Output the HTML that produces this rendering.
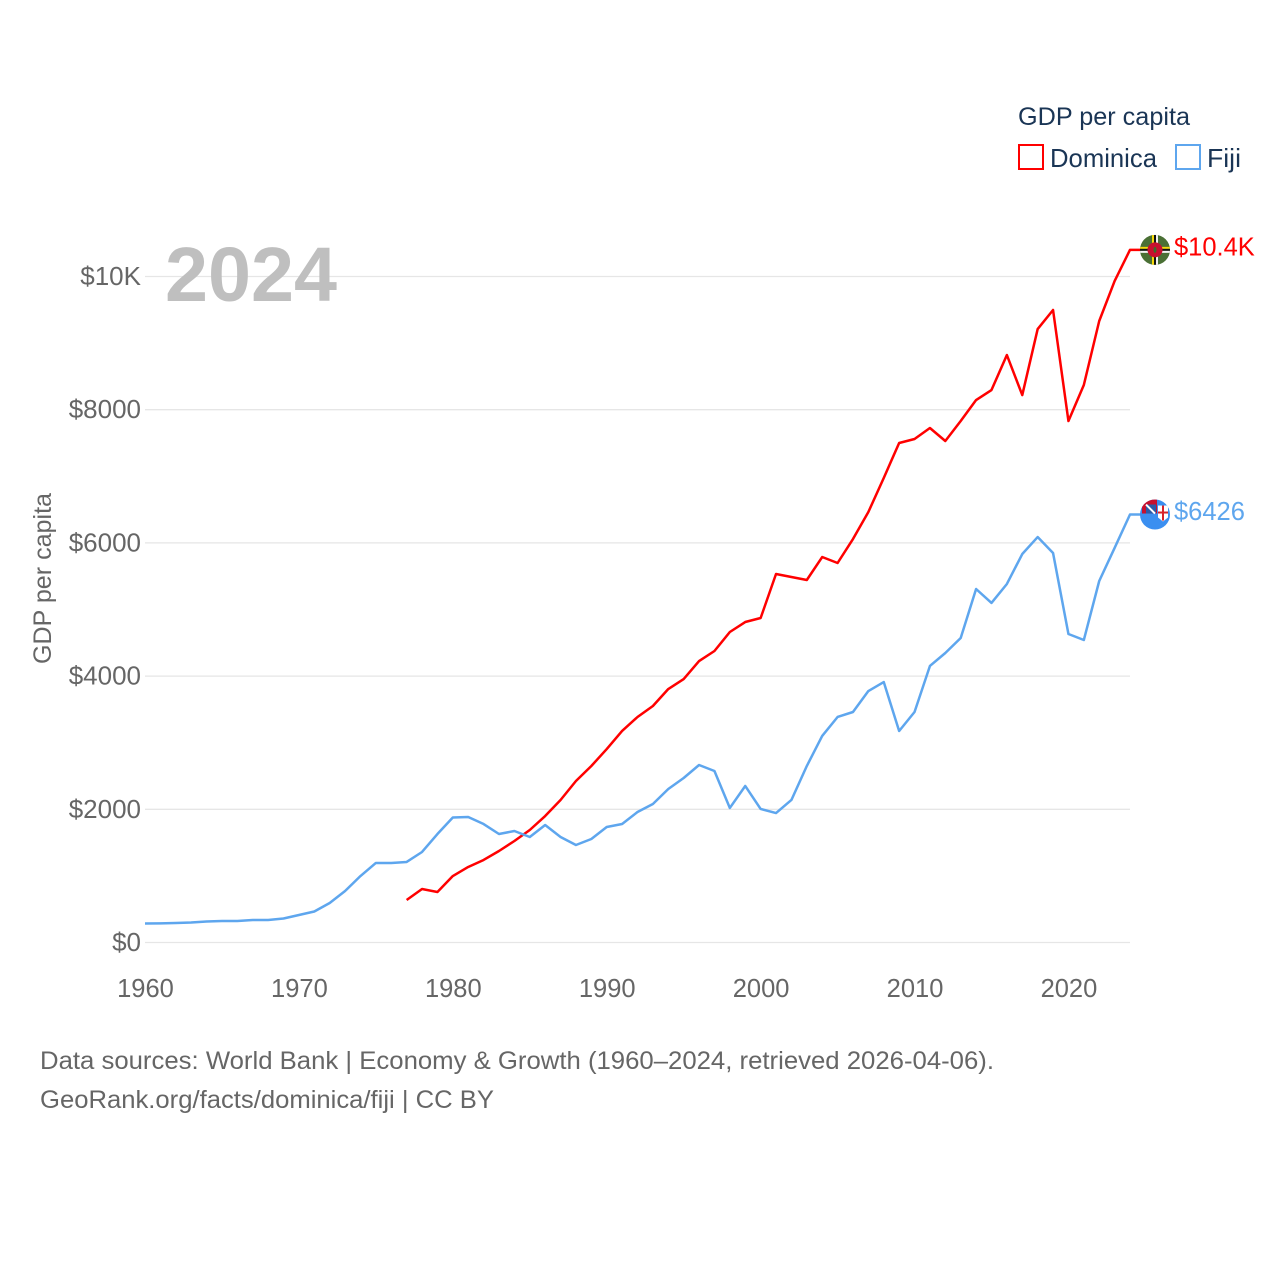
<!DOCTYPE html>
<html>
<head>
<meta charset="utf-8">
<title>GDP per capita: Dominica and Fiji</title>
<style>
html,body{margin:0;padding:0;background:#fff;}
svg{display:block;}
text{font-family:"Liberation Sans",sans-serif;}
</style>
</head>
<body>
<svg id="chart" width="1280" height="1280" viewBox="0 0 1280 1280" xmlns="http://www.w3.org/2000/svg">
  <defs>
    <clipPath id="flag-clip"><circle cx="0" cy="0" r="15"/></clipPath>
  </defs>
  <rect width="1280" height="1280" fill="#fff"/>
  <g id="grid"></g>
  <g id="y-ticks"></g>
  <g id="x-ticks"></g>
  <text x="165" y="301" font-size="77" font-weight="bold" fill="#bfbfbf" textLength="172" lengthAdjust="spacingAndGlyphs">2024</text>
  <text transform="translate(51,578.5) rotate(-90)" text-anchor="middle" font-size="25" fill="#666" textLength="171" lengthAdjust="spacingAndGlyphs">GDP per capita</text>
  <g id="series"></g>

  <g id="flag-dominica">
    <g clip-path="url(#flag-clip)">
      <rect x="-15" y="-15" width="30" height="30" fill="#4a7035"/>
      <rect x="-15" y="-3" width="30" height="2" fill="#f5d90a"/>
      <rect x="-15" y="-1" width="30" height="2" fill="#111"/>
      <rect x="-15" y="1" width="30" height="2" fill="#f4f4f4"/>
      <rect x="-3" y="-15" width="2" height="30" fill="#f5d90a"/>
      <rect x="-1" y="-15" width="2" height="30" fill="#111"/>
      <rect x="1" y="-15" width="2" height="30" fill="#f4f4f4"/>
      <circle r="7.5" fill="#c8102e"/>
      <ellipse rx="1.5" ry="3" fill="#3d6b2a"/>
    </g>
  </g>

  <g id="flag-fiji">
    <g clip-path="url(#flag-clip)">
      <rect x="-15" y="-15" width="30" height="30" fill="#3b8ff0"/>
      <rect x="-13" y="-15" width="15" height="14" fill="#c8102e"/>
      <rect x="-9" y="-10" width="10" height="9" fill="#2a5aa8"/>
      <path d="M-9-10L0-1" stroke="#fff" stroke-width="2"/>
      <rect x="3" y="-9" width="10" height="12" fill="#fff"/>
      <path d="M3 3h10l-5 4z" fill="#fff"/>
      <rect x="7" y="-9" width="2" height="15" fill="#d8232a"/>
      <rect x="3" y="-3" width="10" height="2" fill="#d8232a"/>
    </g>
  </g>

  <g id="end-labels"></g>

  <text x="1018" y="125" font-size="25" fill="#1a3555" textLength="172" lengthAdjust="spacingAndGlyphs">GDP per capita</text>
  <rect x="1019" y="145" width="24" height="24" fill="#fff" stroke="#ff0000" stroke-width="2"/>
  <text x="1050" y="167" font-size="26" fill="#1a3555" textLength="107" lengthAdjust="spacingAndGlyphs">Dominica</text>
  <rect x="1176" y="145" width="24" height="24" fill="#fff" stroke="#5ea6ee" stroke-width="2"/>
  <text x="1207" y="167" font-size="26" fill="#1a3555" textLength="34" lengthAdjust="spacingAndGlyphs">Fiji</text>

  <text x="40" y="1069" font-size="25" fill="#666" textLength="954" lengthAdjust="spacingAndGlyphs">Data sources: World Bank | Economy &amp; Growth (1960–2024, retrieved 2026-04-06).</text>
  <text x="40" y="1108" font-size="25" fill="#666" textLength="454" lengthAdjust="spacingAndGlyphs">GeoRank.org/facts/dominica/fiji | CC BY</text>
</svg>

<script>
const xTickYears = [1960, 1970, 1980, 1990, 2000, 2010, 2020];
const yTickValues = [0, 2000, 4000, 6000, 8000, 10000];
const yTickLabels = ['$0', '$2000', '$4000', '$6000', '$8000', '$10K'];
const fijiStartYear = 1960;
const fijiValues = [285,288,293,300,315,323,323,338,338,360,413,465,593,773,998,1194,1194,1209,1359,1629,1877,1884,1779,1629,1674,1584,1764,1584,1464,1554,1734,1779,1959,2080,2305,2470,2665,2575,2020,2350,2005,1944,2140,2650,3101,3386,3461,3776,3911,3176,3461,4152,4347,4572,5308,5098,5383,5833,6088,5848,4632,4542,5428,5924,6426];
const dominicaStartYear = 1977;
const dominicaValues = [638,803,758,998,1134,1239,1374,1524,1689,1899,2140,2425,2650,2905,3176,3386,3551,3806,3956,4226,4377,4662,4812,4872,5533,5488,5443,5788,5698,6058,6464,6975,7500,7560,7725,7530,7830,8145,8295,8821,8220,9211,9497,7830,8371,9332,9932,10400];

const NS = 'http://www.w3.org/2000/svg';
const xScale = function (year) { return 145 + (year - 1960) * (1130 - 145) / 64; };
const yScale = function (v) { return 942.5 - v * 0.0666; };
const FLAG_OFFSET = 25;

function svgEl(tag, parent) {
  const el = document.createElementNS(NS, tag);
  parent.appendChild(el);
  return el;
}
function formatValue(v) {
  return v >= 10000 ? '$' + (v / 1000).toFixed(1) + 'K' : '$' + Math.round(v);
}

const gridGroup = document.getElementById('grid');
const yTickGroup = document.getElementById('y-ticks');
yTickValues.forEach(function (v, i) {
  const line = svgEl('line', gridGroup);
  
  
  line.setAttribute('x1', 145);
  line.setAttribute('x2', 1130);
  line.setAttribute('y1', yScale(v));
  line.setAttribute('y2', yScale(v));
  line.setAttribute('stroke', '#e6e6e6');
  line.setAttribute('stroke-width', '1.3');
  const label = svgEl('text', yTickGroup);
  
  
  label.setAttribute('x', 141);
  label.setAttribute('y', yScale(v) + 8.5);
  label.setAttribute('text-anchor', 'end');
  label.setAttribute('font-size', '26');
  label.setAttribute('fill', '#666');
  label.textContent = yTickLabels[i];
});

const xTickGroup = document.getElementById('x-ticks');
xTickYears.forEach(function (year) {
  const label = svgEl('text', xTickGroup);
  
  
  label.setAttribute('x', xScale(year) + 0.5);
  label.setAttribute('y', 997);
  label.setAttribute('text-anchor', 'middle');
  label.setAttribute('font-size', '25.5');
  label.setAttribute('fill', '#666');
  label.textContent = String(year);
});

function drawSeries(values, startYear, color, seriesName, flagId) {
  const pts = values.map(function (v, i) {
    return [xScale(startYear + i), yScale(v)];
  });
  const last = pts[pts.length - 1];
  const endX = last[0] + FLAG_OFFSET;
  pts.push([endX, last[1]]);
  const path = svgEl('polyline', document.getElementById('series'));
  
  
  path.setAttribute('points', pts.map(function (p) { return p[0].toFixed(2) + ',' + p[1].toFixed(2); }).join(' '));
  path.setAttribute('fill', 'none');
  path.setAttribute('stroke', color);
  path.setAttribute('stroke-width', '2.5');
  path.setAttribute('stroke-linejoin', 'round');
  document.getElementById(flagId).setAttribute('transform', 'translate(' + endX + ',' + last[1] + ')');
  const label = svgEl('text', document.getElementById('end-labels'));
  
  
  label.setAttribute('x', endX + 19);
  label.setAttribute('y', last[1] + 5.5);
  label.setAttribute('font-size', '25.5');
  label.setAttribute('fill', color);
  label.textContent = formatValue(values[values.length - 1]);
}

drawSeries(dominicaValues, dominicaStartYear, '#ff0000', 'dominica', 'flag-dominica');
drawSeries(fijiValues, fijiStartYear, '#5ea6ee', 'fiji', 'flag-fiji');
</script>
</body>
</html>
